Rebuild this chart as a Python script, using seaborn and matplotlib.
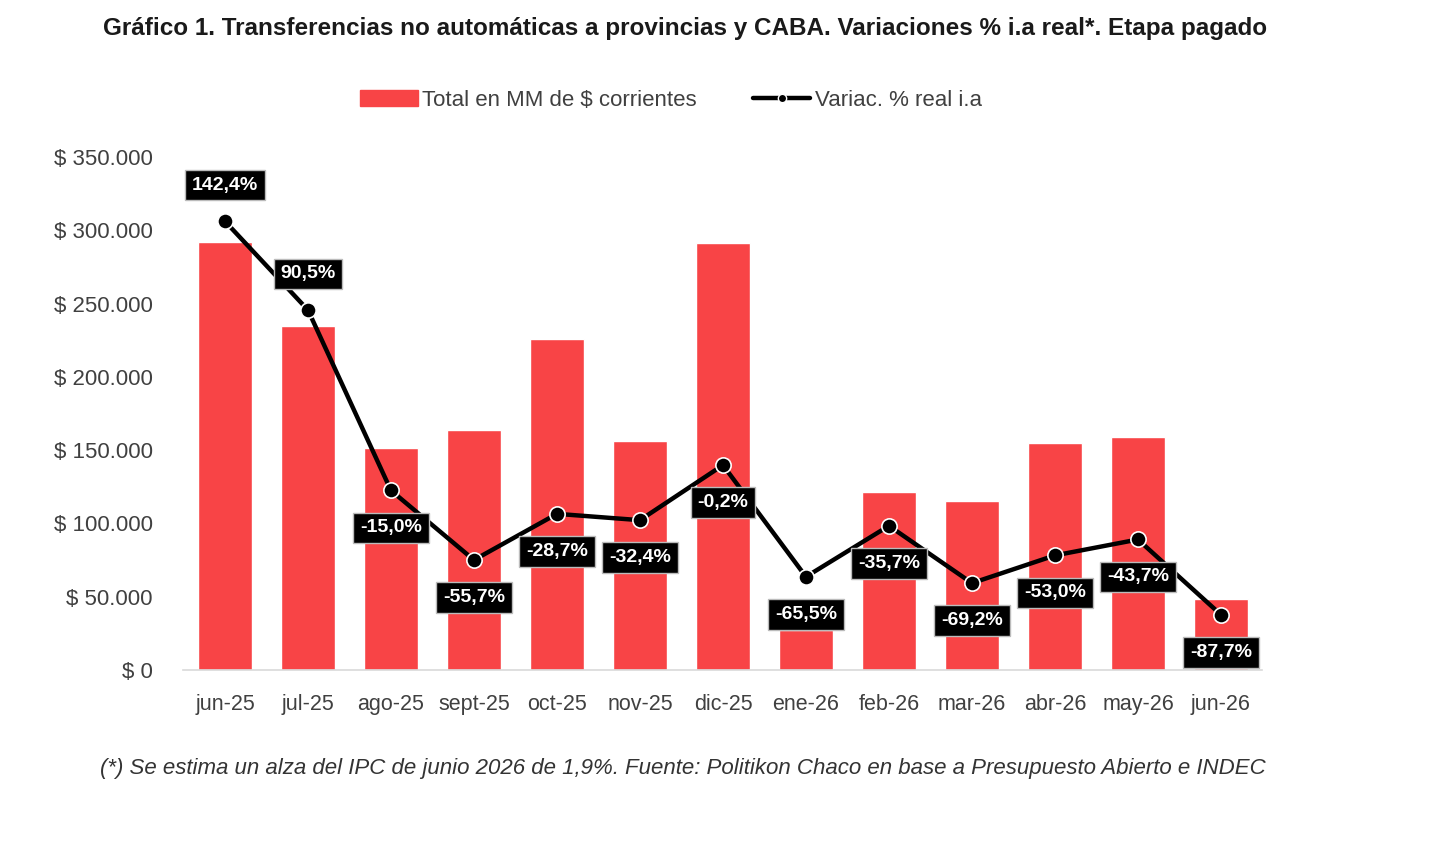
import matplotlib
matplotlib.use("Agg")
import matplotlib.pyplot as plt
import matplotlib.font_manager as fm
import seaborn as sns
import numpy as np
import pandas as pd
from matplotlib.lines import Line2D
from matplotlib.patches import Patch

meses = ["jun-25", "jul-25", "ago-25", "sept-25", "oct-25", "nov-25", "dic-25",
         "ene-26", "feb-26", "mar-26", "abr-26", "may-26", "jun-26"]
total_mm = [292200, 234700, 151700, 163600, 225800, 156200, 291300,
            27300, 121400, 115300, 154900, 159000, 48400]
variac = [142.4, 90.5, -15.0, -55.7, -28.7, -32.4, -0.2,
          -65.5, -35.7, -69.2, -53.0, -43.7, -87.7]

ROJO = "#F84446"
GRIS = "#404040"

sns.set_style("white")
names = {f.name for f in fm.fontManager.ttflist}
fam = [f for f in ["Liberation Sans Narrow", "Liberation Sans", "DejaVu Sans"] if f in names]
plt.rcParams["font.family"] = fam

df = pd.DataFrame({"mes": meses, "total": total_mm, "var": variac})

fig = plt.figure(figsize=(14.4, 8.44), dpi=100)
ax = fig.add_axes([0.1274, 0.2062, 0.7493, 0.6078])
sns.barplot(data=df, x="mes", y="total", color=ROJO, width=0.66, saturation=1, ax=ax)
ax.set_xlim(-0.5, len(meses) - 0.5)
ax.set_ylim(0, 350000)
ax.set_yticks(np.arange(0, 350001, 50000))
ax.set_yticklabels([f"$ {int(v):,}".replace(",", ".") for v in ax.get_yticks()],
                   fontsize=16, color=GRIS)
ax.tick_params(axis="x", labelsize=15.5, labelcolor=GRIS, length=0, pad=17)
ax.tick_params(axis="y", length=0, pad=22)
ax.set_xlabel("")
ax.set_ylabel("")
for s in ["top", "right", "left"]:
    ax.spines[s].set_visible(False)
ax.spines["bottom"].set_color("#d9d9d9")
ax.spines["bottom"].set_linewidth(1.2)

# variacion real en eje secundario oculto
ax2 = ax.twinx()
x = np.arange(len(meses))
sns.lineplot(x=x, y=variac, ax=ax2, color="black", linewidth=3.2, marker="o",
             markersize=11, markeredgecolor="white", markeredgewidth=1.2)
ax2.set_ylim(-120, 180)
ax2.set_xlim(-0.5, len(meses) - 0.5)
ax2.axis("off")

for i, v in enumerate(variac):
    dy = 26 if i < 2 else -27
    ax2.annotate(f"{v:.1f}%".replace(".", ","), (i, v), xytext=(0, dy),
                 textcoords="offset points", ha="center", va="center",
                 fontsize=14, fontweight="bold", color="white",
                 bbox=dict(boxstyle="square,pad=0.35", fc="black", ec="#bbbbbb", lw=1))

fig.text(0.476, 0.966, "Gráfico 1. Transferencias no automáticas a provincias y CABA. "
         "Variaciones % i.a real*. Etapa pagado",
         ha="center", va="center", fontsize=17.5, fontweight="bold", color="#1a1a1a")

handles = [Patch(color=ROJO),
           Line2D([0], [0], color="black", lw=3.2, marker="o", markersize=6,
                  markeredgecolor="white")]
fig.legend(handles, ["Total en MM de $ corrientes", "Variac. % real i.a"],
           loc="center", bbox_to_anchor=(0.466, 0.881), ncol=2, frameon=False,
           fontsize=16, handlelength=2.6, handleheight=0.7, columnspacing=2.5,
           handletextpad=0.2, labelcolor=GRIS)

fig.text(0.474, 0.09, "(*) Se estima un alza del IPC de junio 2026 de 1,9%. Fuente: "
         "Politikon Chaco en base a Presupuesto Abierto e INDEC",
         ha="center", va="center", fontsize=16, style="italic", color="#333333")

fig.savefig("out.png", dpi=100)
